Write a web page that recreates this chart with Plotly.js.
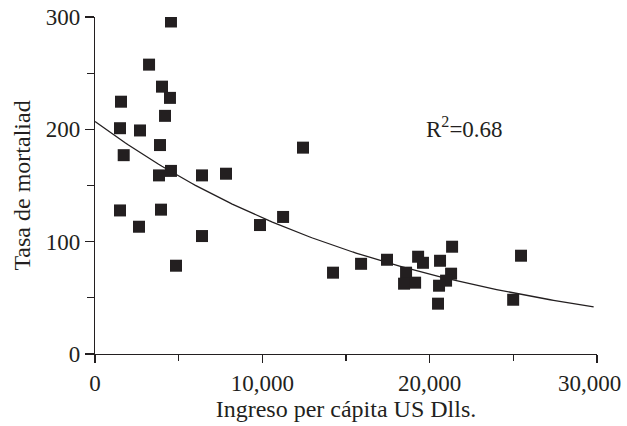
<!DOCTYPE html>
<html>
<head>
<meta charset="utf-8">
<script src="https://cdn.plot.ly/plotly-3.0.1.min.js"></script>
<style>html,body{margin:0;padding:0;background:#fff;}#chart{width:627px;height:426px;}</style>
</head>
<body>
<div id="chart"></div>
<script>
// Ingreso per cápita (US Dlls.)
const ingreso = [4540, 3230, 1555, 4005, 4480, 4185, 1495, 2690, 3885, 1715, 3825, 4540, 6395, 7830, 12430,
  1495, 2630, 3945, 6395, 4840, 9860, 11240, 14225,
  15900, 17450, 19310, 19600, 18590, 18470, 19130, 20620, 21340, 21280, 20980, 20560, 20500, 25460, 24990];
// Tasa de mortalidad
const mortalidad = [296, 257.6, 224.6, 238, 228, 212, 201, 199, 186, 177, 159, 163, 159, 160.5, 183.7,
  127.8, 113.3, 128.5, 105, 78.6, 114.8, 122, 72.4,
  80.3, 83.9, 86.6, 81.2, 72.4, 62.6, 63.5, 83, 95.5, 71.5, 65.3, 60.8, 44.8, 87.5, 48.3];
// Exponential trend (y = a * e^(b x))
const trendA = 207;
const trendB = -5.35e-5;
const trendX = [];
for (let x = 0; x <= 29800; x += 200) trendX.push(x);
const trendY = trendX.map(x => trendA * Math.exp(trendB * x));

const xTicks = [0, 10000, 20000, 30000];
const xTickText = ["0", "10,000", "20,000", "30,000"];
const yTicks = [0, 100, 200, 300];
const r2Label = "R<sup>2</sup>=0.68";

const ink = "#231f20";
const fam = "Liberation Serif, Times New Roman, serif";
const tickFont = {family: fam, size: 23, color: ink};
const titleFont = {family: fam, size: 24, color: ink};

const traces = [
  {x: trendX, y: trendY, mode: "lines", line: {color: ink, width: 1.3}, hoverinfo: "skip", showlegend: false},
  {x: ingreso, y: mortalidad, mode: "markers", type: "scatter",
   marker: {symbol: "square", size: 12, color: ink, line: {width: 0}}, showlegend: false}
];

// last tick label is drawn as an annotation so it can sit flush inside the page edge
const lastIdx = xTicks.length - 1;
const shownTickText = xTickText.map((t, i) => i === lastIdx ? "" : t);

const layout = {
  width: 627, height: 426,
  margin: {l: 95, r: 30, t: 17, b: 72},
  paper_bgcolor: "#fff", plot_bgcolor: "#fff",
  font: tickFont,
  showlegend: false,
  xaxis: {
    range: [0, 30000], tickvals: xTicks, ticktext: shownTickText,
    showgrid: false, zeroline: false, showline: true, linecolor: ink, linewidth: 1.2,
    ticks: "outside", ticklen: 8, tickwidth: 1.2, tickcolor: ink,
    minor: {dtick: 5000, ticks: "outside", ticklen: 6, tickwidth: 1.2, tickcolor: ink, showgrid: false},
    tickfont: tickFont,
    title: {text: "Ingreso per cápita US Dlls.", font: titleFont, standoff: 2}
  },
  yaxis: {
    range: [0, 300], tickvals: yTicks,
    showgrid: false, zeroline: false, showline: true, linecolor: ink, linewidth: 1.2,
    ticks: "outside", ticklen: 9, tickwidth: 1.2, tickcolor: ink,
    minor: {dtick: 50, ticks: "outside", ticklen: 7, tickwidth: 1.2, tickcolor: ink, showgrid: false},
    tickfont: tickFont,
    title: {text: "Tasa de mortaliad", font: titleFont, standoff: 8}
  },
  annotations: [
    {x: 19650, y: 202, xref: "x", yref: "y", text: r2Label, showarrow: false,
     xanchor: "left", yanchor: "middle", font: tickFont},
    {x: xTicks[lastIdx], y: 0, xref: "x", yref: "paper", text: xTickText[lastIdx], showarrow: false,
     xanchor: "right", yanchor: "middle", xshift: 26, yshift: -29, font: tickFont}
  ]
};

Plotly.newPlot("chart", traces, layout, {staticPlot: true, displayModeBar: false});
</script>
</body>
</html>
